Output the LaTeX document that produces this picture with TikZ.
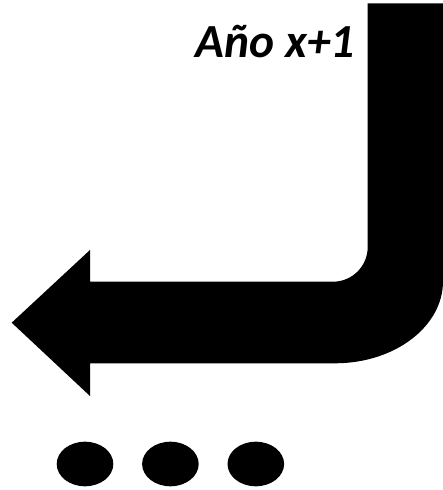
\documentclass[tikz,border=0pt]{standalone}
\usepackage{fontspec}
\newfontfamily\yearfont{Carlito}
\usetikzlibrary{positioning, shapes.geometric}

\begin{document}
\begin{tikzpicture}[
				x=1pt, y=1pt,
				node distance=0pt and 28.4pt,
				bigarrow/.style={fill=black, draw=none},
				yearlabel/.style={font=\yearfont\bfseries\itshape\fontsize{47.5}{56}\selectfont, inner sep=0pt},
				dot/.style={ellipse, fill=black, minimum width=56.6pt, minimum height=44.6pt, inner sep=0pt}
				]
				
				\useasboundingbox (0,0) rectangle (443,490);
				
				% Bent arrow
				\fill[bigarrow] (367.7,486.7) -- (443,486.7) -- (443,208.7)
					arc[start angle=0, end angle=-90, x radius=108pt, y radius=82pt]
					-- (90,126.7) -- (90,94) -- (11.7,167.3) -- (90,240) -- (90,208.3) -- (333,208.3)
					arc[start angle=-90, end angle=0, radius=34.7pt] -- cycle;
				
				% Label
				\node[yearlabel, anchor=base east] (year) at (355,432) {Año x+1};
				
				% Dots
				\node[dot] (dot1) at (85,26) {};
				\node[dot, right=of dot1] (dot2) {};
				\node[dot, right=of dot2] (dot3) {};
				
			\end{tikzpicture}
\end{document}
